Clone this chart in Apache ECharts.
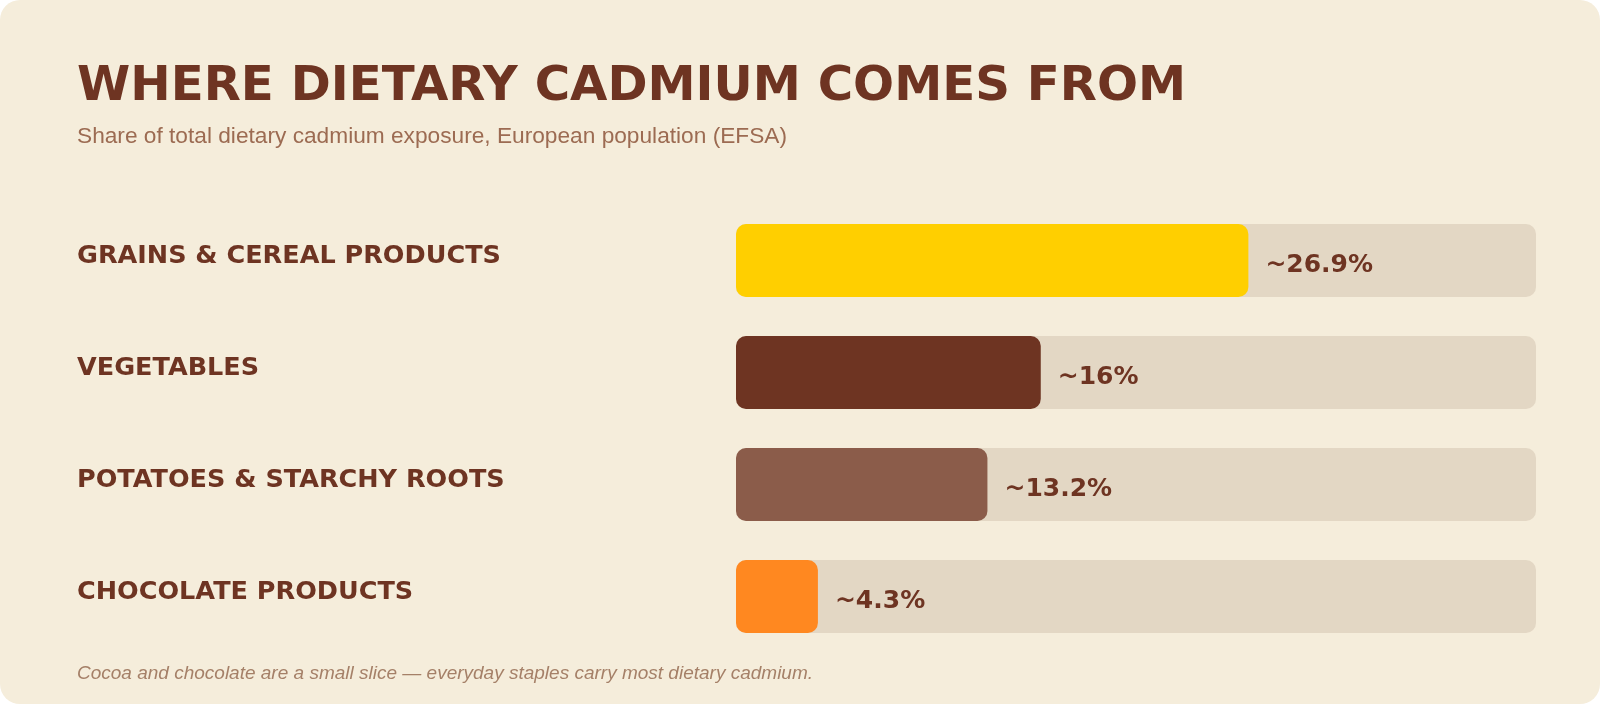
<!DOCTYPE html>
<html lang="en">

<head>
    <meta charset="UTF-8">
    <title>Where dietary cadmium comes from</title>
    <script src="https://cdn.jsdelivr.net/npm/echarts@6/dist/echarts.min.js"></script>
</head>
<style>
    html, body {
        margin: 0;
        padding: 0;
        background: #ffffff;
    }
    #card {
        position: absolute;
        left: 0;
        top: 0;
        width: 1600px;
        height: 704px;
        background-color: #f5eddb;
        border-radius: 20px;
        overflow: hidden;
    }
    #box {
        width: 1600px;
        height: 704px;
    }
</style>

<body>
    <div id="card">
        <div id="box"></div>
    </div>
    <script>
        // data
        const categories = ['GRAINS & CEREAL PRODUCTS', 'VEGETABLES', 'POTATOES & STARCHY ROOTS', 'CHOCOLATE PRODUCTS'];
        const shares = [26.9, 16, 13.2, 4.3];
        const axisMax = 42;

        const palette = ['#ffcf00', '#6e3422', '#8b5c4a', '#ff8820'];
        const brown = '#6e3422';

        var myChart = echarts.init(document.getElementById('box'));

        var option = {
            backgroundColor: 'transparent',
            title: [
                {
                    text: 'WHERE DIETARY CADMIUM COMES FROM',
                    left: 77,
                    top: 63,
                    padding: 0,
                    textStyle: {
                        fontFamily: 'DejaVu Sans',
                        fontWeight: 'bold',
                        fontSize: 48.3,
                        color: brown
                    }
                },
                {
                    text: 'Share of total dietary cadmium exposure, European population (EFSA)',
                    left: 77,
                    top: 125,
                    padding: 0,
                    textStyle: {
                        fontFamily: 'Liberation Sans',
                        fontWeight: 'normal',
                        fontSize: 22.7,
                        color: '#9c6b52'
                    }
                },
                {
                    text: 'Cocoa and chocolate are a small slice \u2014 everyday staples carry most dietary cadmium.',
                    left: 77,
                    top: 664,
                    padding: 0,
                    textStyle: {
                        fontFamily: 'Liberation Sans',
                        fontStyle: 'italic',
                        fontWeight: 'normal',
                        fontSize: 19,
                        color: '#a58068'
                    }
                }
            ],
            grid: {
                left: 736,
                right: 64,
                top: 204.5,
                bottom: 51.5,
                containLabel: false
            },
            xAxis: {
                type: 'value',
                min: 0,
                max: axisMax,
                show: false
            },
            yAxis: {
                type: 'category',
                data: categories,
                inverse: true,
                axisLine: { show: false },
                axisTick: { show: false },
                splitLine: { show: false },
                axisLabel: {
                    align: 'left',
                    margin: 659,
                    formatter: function (v) {
                        return '{a|' + v + '}';
                    },
                    rich: {
                        a: {
                            fontFamily: 'DejaVu Sans',
                            fontWeight: 'bold',
                            fontSize: 25.5,
                            color: brown,
                            padding: [0, 0, 9, 0]
                        }
                    }
                }
            },
            series: [
                {
                    type: 'bar',
                    barWidth: 73,
                    silent: true,
                    showBackground: true,
                    backgroundStyle: {
                        color: '#e3d7c4',
                        borderRadius: 10
                    },
                    data: shares.map(function (v, i) {
                        return {
                            value: v,
                            itemStyle: { color: palette[i] }
                        };
                    }),
                    itemStyle: {
                        borderRadius: 10
                    },
                    label: {
                        show: true,
                        position: 'right',
                        distance: 17,
                        offset: [0, 5],
                        fontFamily: 'DejaVu Sans',
                        fontWeight: 'bold',
                        fontSize: 25,
                        color: brown,
                        formatter: function (p) {
                            return '~' + p.value + '%';
                        }
                    }
                }
            ]
        };

        option && myChart.setOption(option);
    </script>
</body>

</html>
